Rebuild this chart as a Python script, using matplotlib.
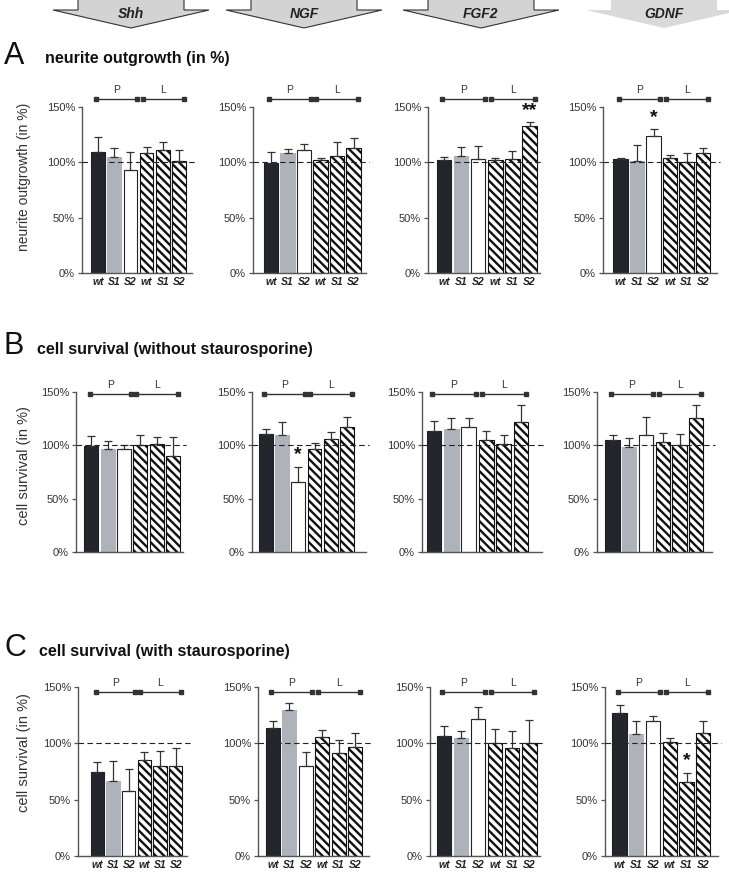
import numpy as np
import matplotlib.pyplot as plt
from matplotlib.patches import Polygon

plt.rcParams['font.family'] = ['Liberation Sans', 'DejaVu Sans']
plt.rcParams['hatch.linewidth'] = 1.7
plt.rcParams['hatch.color'] = 'black'

factors = ['Shh', 'NGF', 'FGF2', 'GDNF']
groups = ['wt', 'S1', 'S2', 'wt', 'S1', 'S2']
row_letters = ['A', 'B', 'C']
row_titles = ['neurite outgrowth (in %)',
              'cell survival (without staurosporine)',
              'cell survival (with staurosporine)']
row_ylabels = ['neurite outgrowth (in %)', 'cell survival (in %)', 'cell survival (in %)']

# order of bars: P wt, P S1, P S2, L wt, L S1, L S2 ; one list per factor
outgrowth_mean = [[109, 105, 93, 108, 111, 101],
                  [99, 108, 111, 102, 106, 113],
                  [102, 106, 103, 102, 103, 133],
                  [103, 101, 124, 104, 100, 108]]
outgrowth_err = [[14, 8, 16, 6, 7, 10],
                 [10, 4, 6, 2, 12, 9],
                 [3, 8, 12, 2, 7, 3],
                 [1, 15, 6, 3, 8, 4.5]]

survival_mean = [[99, 97, 97, 100, 101, 90],
                 [111, 110, 66, 97, 106, 117],
                 [113, 115, 117, 105, 101, 122],
                 [105, 98, 109.5, 103.5, 100, 125.5]]
survival_err = [[9.5, 7, 3, 10, 7, 18],
                [4, 12, 14, 5, 6.5, 10],
                [9.5, 11, 9, 8, 9, 16],
                [4.5, 9, 17.5, 8.5, 11, 12]]

stauro_mean = [[75, 67, 58, 85, 80, 80],
               [114, 130, 80, 106, 91.5, 96.5],
               [106.5, 105, 122, 100, 95.5, 100],
               [127, 108, 120, 101.5, 66, 109]]
stauro_err = [[8, 17, 19, 7.5, 13, 16],
              [6, 6, 12, 6, 11.5, 12.5],
              [9, 6, 10, 13, 15.5, 20.5],
              [7, 12, 4, 3.5, 8, 11]]

means = [outgrowth_mean, survival_mean, stauro_mean]
errs = [outgrowth_err, survival_err, stauro_err]

# (row, panel, bar, mark)
stars = [(0, 2, 5, '**'), (0, 3, 2, '*'), (1, 1, 2, '*'), (2, 3, 4, '*')]

# layout in pixels of the 729x872 picture
W, H = 729, 872
row_y = [(107, 273), (392, 552), (687, 856)]          # y of 150% and 0%
panel_x = [[(82, 192, 98, 179), (253, 366, 271, 353.5), (428, 540, 444, 529.5), (603, 717, 620.5, 703)],
           [(76, 183, 91.3, 173), (252, 366, 265.8, 347), (422, 542, 434, 521), (597, 712, 612.5, 696.3)],
           [(78, 187, 97.3, 175.8), (258, 369, 273, 355), (430, 540, 444, 529.3), (605, 718, 619.5, 703.3)]]
bracket_y = [157, 148, 145.5]
label_y = [0.58, 0.54, 0.615]
arrow_x = [131, 304, 481, 664]

face = ['#23272d', '#aeb3bb', 'white', 'white', 'white', 'white']
edge = ['#1c1f24', '#aeb3bb', '#222222', '#111111', '#111111', '#111111']
hatch = [None, None, None, '\\\\\\\\', '\\\\\\\\', '\\\\\\\\']

fig = plt.figure(figsize=(W / 100, H / 100), dpi=100)

bg = fig.add_axes([0, 0, 1, 1])
bg.set_xlim(0, W)
bg.set_ylim(H, 0)
bg.axis('off')

for i, (cx, name) in enumerate(zip(arrow_x, factors)):
    pts = [(cx - 53, -2), (cx + 53, -2), (cx + 53, 10), (cx + 78, 10),
           (cx, 28), (cx - 78, 10), (cx - 53, 10)]
    if name == 'GDNF':
        bg.add_patch(Polygon(pts, closed=True, facecolor='#d9d9d9', edgecolor='none'))
    else:
        bg.add_patch(Polygon(pts, closed=True, facecolor='#d3d3d3', edgecolor='#333333', lw=0.8))
    bg.text(cx, 14, name, ha='center', va='center', fontsize=10,
            fontweight='bold', fontstyle='italic', color='#222222')

head_y = [56, 346, 648]
title_x = [45, 37, 39]
for r in range(3):
    bg.text(4, head_y[r], row_letters[r], ha='left', va='center', fontsize=22, color='#111111')
    bg.text(title_x[r], head_y[r] + 3, row_titles[r], ha='left', va='center',
            fontsize=11.5, fontweight='bold', color='#111111')

x = np.arange(len(groups))
for r in range(3):
    top, bot = row_y[r]
    for p in range(4):
        left, right, c0, c5 = panel_x[r][p]
        step = (c5 - c0) / 5
        ax = fig.add_axes([left / W, 1 - bot / H, (right - left) / W, (bot - top) / H])
        ax.set_xlim((left - c0) / step, 5 + (right - c5) / step)
        ax.set_ylim(0, 150)

        m = means[r][p]
        e = errs[r][p]
        for i in range(6):
            ax.bar(x[i], m[i], width=0.85, color=face[i], edgecolor=edge[i],
                   hatch=hatch[i], linewidth=0.8, zorder=2)
        ax.errorbar(x, m, yerr=[np.zeros(6), e], fmt='none', ecolor='#333333',
                    elinewidth=0.9, capsize=3, capthick=0.9, zorder=3)
        ax.axhline(100, xmin=0, xmax=1.03, color='#222222', lw=0.8,
                   ls=(0, (5, 3)), zorder=5, clip_on=False)

        by = bracket_y[r]
        for (a, b), lab in zip([(-0.1, 2.4), (2.75, 5.3)], ['P', 'L']):
            ax.plot([a, b], [by, by], color='#333333', lw=1.0, marker='s',
                    markersize=2.2, clip_on=False, zorder=4)
            ax.text((a + b) / 2, by + 4, lab, ha='center', va='bottom',
                    fontsize=7.5, color='#333333')

        for sr, sp, sb, mark in stars:
            if sr == r and sp == p:
                ax.text(x[sb], m[sb] + e[sb] + 3, mark, ha='center', va='bottom',
                        fontsize=14, fontweight='bold', color='#111111')

        for s in ['top', 'right']:
            ax.spines[s].set_visible(False)
        for s in ['left', 'bottom']:
            ax.spines[s].set_color('#555555')
            ax.spines[s].set_linewidth(1.0)
        ax.set_yticks([0, 50, 100, 150])
        ax.set_yticklabels(['0%', '50%', '100%', '150%'])
        ax.tick_params(axis='y', length=3, width=0.9, color='#555555',
                       labelsize=8, labelcolor='#333333', pad=2)
        if r == 1:
            ax.set_xticks([])
        else:
            ax.set_xticks(x)
            ax.set_xticklabels(groups, fontweight='bold', fontstyle='italic', fontsize=7.5)
            ax.tick_params(axis='x', length=0, pad=3, labelcolor='#222222')

        if p == 0:
            ax.set_ylabel(row_ylabels[r], fontsize=10.5 if r else 10, color='#333333')
            ax.yaxis.set_label_coords((31 - left) / (right - left), label_y[r])

fig.savefig('out.png', dpi=100)
